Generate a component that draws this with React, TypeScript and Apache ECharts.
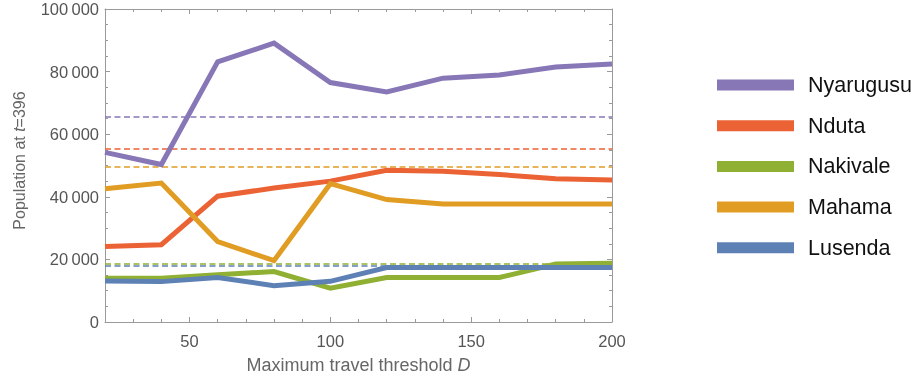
import React, { useEffect, useRef } from "react";
import * as echarts from "echarts";

const xValues = [20, 40, 60, 80, 100, 120, 140, 160, 180, 200];
const seriesNames = ["Nyarugusu", "Nduta", "Nakivale", "Mahama", "Lusenda"];
const seriesColors = ["#8877b7", "#eb6235", "#8fb032", "#e19c24", "#5e81b5"];
const nyarugusu = [54200, 50300, 83100, 89100, 76500, 73500, 77900, 78900, 81500, 82400];
const nduta = [24100, 24700, 40200, 42800, 45000, 48500, 48200, 47100, 45800, 45400];
const nakivale = [14000, 14000, 15100, 16100, 10800, 14200, 14200, 14200, 18500, 18800];
const mahama = [42600, 44400, 25700, 19600, 44200, 39100, 37700, 37700, 37700, 37700];
const lusenda = [13100, 12900, 14200, 11600, 13000, 17400, 17400, 17400, 17400, 17400];
const referenceLevels = [65700, 55200, 18600, 49500, 17900];
const xMajorTicks = [50, 100, 150, 200];
const yTicks = [0, 20000, 40000, 60000, 80000, 100000];

const FONT = "'Liberation Sans', Arial, Helvetica, sans-serif";
const AXIS = "#9a9a9a";
const TICKTEXT = "#555555";
const NAMETEXT = "#666666";

export default function App() {
  const ref = useRef<HTMLDivElement>(null);
  useEffect(() => {
    if (!ref.current) return;
    const chart = echarts.init(ref.current, undefined, { renderer: "svg" });
    const values = [nyarugusu, nduta, nakivale, mahama, lusenda];
    const fmtY = (v: number) => (v === 0 ? "0" : `${v / 1000}\u2009000`);
    const axisLine = { show: true, lineStyle: { color: AXIS, width: 1 } };
    const baseX = { type: "value", min: 20, max: 200, splitLine: { show: false } };
    const baseY = { type: "value", min: 0, max: 100000, interval: 20000, splitLine: { show: false } };
    chart.setOption({
      animation: false,
      textStyle: { fontFamily: FONT },
      grid: { left: 105, right: 306, top: 9, bottom: 57, containLabel: false, outerBoundsMode: "none" },
      legend: {
        orient: "vertical",
        left: 717,
        top: 74,
        icon: "rect",
        itemWidth: 77,
        itemHeight: 11,
        itemGap: 18.7,
        padding: 0,
        data: seriesNames,
        textStyle: { fontFamily: FONT, fontSize: 21.5, lineHeight: 21, color: "#111", padding: [0, 0, 0, 9] },
      },
      xAxis: [
        {
          ...baseX,
          position: "bottom",
          axisLine,
          axisTick: { show: true, inside: true, length: 5, customValues: xMajorTicks, lineStyle: { color: AXIS } },
          axisLabel: { show: true, customValues: xMajorTicks, color: TICKTEXT, fontSize: 16.5, margin: 10, fontFamily: FONT },
          name: "Maximum travel threshold {i|D}",
          nameLocation: "middle",
          nameGap: 34,
          nameTextStyle: {
            color: NAMETEXT,
            fontSize: 18,
            fontFamily: FONT,
            rich: { i: { fontStyle: "italic", color: NAMETEXT, fontSize: 18, fontFamily: FONT } },
          },
        },
        {
          ...baseX,
          interval: 10,
          position: "bottom",
          axisLine: { show: false },
          axisTick: { show: true, inside: true, length: 3, lineStyle: { color: AXIS } },
          axisLabel: { show: false },
        },
        {
          ...baseX,
          position: "top",
          axisLine,
          axisTick: { show: true, inside: true, length: 5, customValues: xMajorTicks, lineStyle: { color: AXIS } },
          axisLabel: { show: false },
        },
        {
          ...baseX,
          interval: 10,
          position: "top",
          axisLine: { show: false },
          axisTick: { show: true, inside: true, length: 3, lineStyle: { color: AXIS } },
          axisLabel: { show: false },
        },
      ],
      yAxis: [
        {
          ...baseY,
          position: "left",
          axisLine,
          axisTick: { show: true, inside: true, length: 5, lineStyle: { color: AXIS } },
          minorTick: { show: true, splitNumber: 4, length: 3, lineStyle: { color: AXIS } },
          axisLabel: { show: true, color: TICKTEXT, fontSize: 16.5, margin: 6, fontFamily: FONT, formatter: fmtY, customValues: yTicks },
          name: "Population at {i|t}=396",
          nameLocation: "middle",
          nameRotate: 90,
          nameGap: 78,
          nameTextStyle: {
            color: NAMETEXT,
            fontSize: 16,
            fontFamily: FONT,
            padding: [0, 0, 0, 10],
            rich: { i: { fontStyle: "italic", color: NAMETEXT, fontSize: 16, fontFamily: FONT } },
          },
        },
        {
          ...baseY,
          position: "right",
          axisLine,
          axisTick: { show: true, inside: true, length: 5, lineStyle: { color: AXIS } },
          minorTick: { show: true, splitNumber: 4, length: 3, lineStyle: { color: AXIS } },
          axisLabel: { show: false },
        },
      ],
      series: seriesNames.map((name, i) => ({
        name,
        type: "line",
        xAxisIndex: 0,
        yAxisIndex: 0,
        data: xValues.map((x, j) => [x, values[i][j]]),
        showSymbol: false,
        symbol: "none",
        color: seriesColors[i],
        lineStyle: { color: seriesColors[i], width: 5, join: "miter" },
        itemStyle: { color: seriesColors[i] },
        z: 3,
        markLine: {
          silent: true,
          symbol: ["none", "none"],
          label: { show: false },
          lineStyle: { color: seriesColors[i], type: [6, 3.5], width: 1.5 },
          data: [{ yAxis: referenceLevels[i] }],
          z: 2,
        },
      })),
    });
    return () => chart.dispose();
  }, []);
  return <div ref={ref} style={{ position: "fixed", left: 0, top: 0, width: 918, height: 379 }} />;
}
